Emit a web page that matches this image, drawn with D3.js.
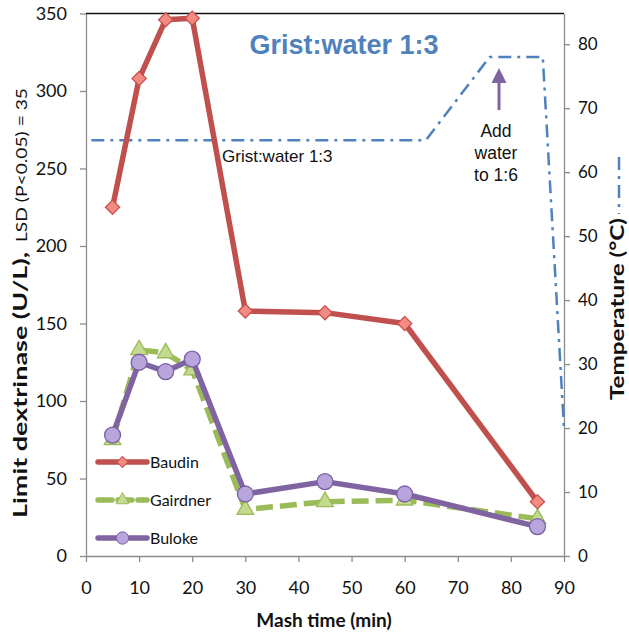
<!DOCTYPE html>
<html>
<head>
<meta charset="utf-8">
<script src="https://cdn.jsdelivr.net/npm/d3@7"></script>
<style>
body { margin: 0; background: #fff; }
svg text { font-family: Lato, "Open Sans", sans-serif; }
</style>
</head>
<body>
<svg id="chart" width="629" height="637"></svg>
<script>
// Data
const mashTimes = [5, 10, 15, 20, 30, 45, 60, 85];
const baudin = [225, 308, 346, 347, 158, 157, 150, 35];
const gairdner = [75, 133, 131, 120, 30, 35, 36, 24];
const buloke = [78, 125, 119, 127, 40, 48, 40, 19];
const tempTimes = [1, 64, 76, 86, 90];
const tempValues = [65, 65, 78, 78, 20];
const xTicks = [0, 10, 20, 30, 40, 50, 60, 70, 80, 90];
const leftTicks = [0, 50, 100, 150, 200, 250, 300, 350];
const rightTicks = [0, 10, 20, 30, 40, 50, 60, 70, 80];
const seriesNames = ["Baudin", "Gairdner", "Buloke"];

const svg = d3.select("#chart");
const margin = { top: 13.5, right: 65, bottom: 81, left: 86 };
const width = +svg.attr("width") - margin.left - margin.right;
const height = +svg.attr("height") - margin.top - margin.bottom;

const g = svg.append("g")
    .attr("transform", `translate(${margin.left},${margin.top})`);

const x = d3.scaleLinear().domain([0, 90]).range([0, width]);
const y = d3.scaleLinear().domain([0, 350]).range([height, 0]);
const yT = d3.scaleLinear().domain([0, 84.8]).range([height, 0]);

const axisGrey = "#8c8c8c";
const tempDash = "13,6,3,6";

// Axes
const gx = g.append("g")
    .attr("transform", `translate(0,${height})`)
    .call(d3.axisBottom(x).tickValues(xTicks).tickSize(6).tickSizeOuter(0).tickPadding(19));
const gy = g.append("g")
    .call(d3.axisLeft(y).tickValues(leftTicks).tickSize(6).tickSizeOuter(0).tickPadding(13));
const gr = g.append("g")
    .attr("transform", `translate(${width},0)`)
    .call(d3.axisRight(yT).tickValues(rightTicks).tickSize(6).tickSizeOuter(0).tickPadding(8));

[gx, gy, gr].forEach(a => {
    a.select(".domain").attr("stroke", axisGrey).attr("stroke-width", 1.3);
    a.selectAll(".tick line").attr("stroke", axisGrey).attr("stroke-width", 1.3);
    a.selectAll("text").attr("fill", "#111").style("font-size", "18px");
});
gr.selectAll("text").style("font-size", "17px");

// Top border
g.append("line")
    .attr("x1", 0).attr("x2", width)
    .attr("y1", 0).attr("y2", 0)
    .attr("stroke", "#111").attr("stroke-width", 1.5);

// Temperature profile (right axis)
const tempLine = d3.line().x(d => x(d[0])).y(d => yT(d[1]));
g.append("path")
    .datum(tempTimes.map((t, i) => [t, tempValues[i]]))
    .attr("d", tempLine)
    .attr("fill", "none")
    .attr("stroke", "#4f81bd")
    .attr("stroke-width", 2.5)
    .attr("stroke-dasharray", tempDash);

// Series styles
const styles = {
    Baudin: { stroke: "#c0504d", fill: "#f28b82", mstroke: "#c9514c", dash: null, sym: d3.symbolSquare, size: 100, rot: 45 },
    Gairdner: { stroke: "#9bbb59", fill: "#c4da8e", mstroke: "#9bbb59", dash: "17,7", sym: d3.symbolTriangle, size: 120, rot: 0 },
    Buloke: { stroke: "#8064a2", fill: "#b8a5dc", mstroke: "#7a5fa6", dash: null, sym: d3.symbolCircle, size: 200, rot: 0 }
};
const seriesData = { Baudin: baudin, Gairdner: gairdner, Buloke: buloke };
const drawOrder = ["Gairdner", "Buloke", "Baudin"];

const line = d3.line().x(d => x(d.t)).y(d => y(d.v));

drawOrder.forEach(name => {
    const s = styles[name];
    const pts = mashTimes.map((t, i) => ({ t: t, v: seriesData[name][i] }));
    g.append("path")
        .datum(pts)
        .attr("d", line)
        .attr("fill", "none")
        .attr("stroke", s.stroke)
        .attr("stroke-width", 5.5)
        .attr("stroke-linejoin", "round")
        .attr("stroke-dasharray", s.dash);
    g.selectAll(".pt-" + name)
        .data(pts)
        .enter()
        .append("path")
        .attr("class", "pt-" + name)
        .attr("d", d3.symbol().type(s.sym).size(s.size))
        .attr("transform", d => `translate(${x(d.t)},${y(d.v)}) rotate(${s.rot})`)
        .attr("fill", s.fill)
        .attr("stroke", s.mstroke)
        .attr("stroke-width", 1.3);
});

// Legend
const legend = svg.append("g").attr("transform", "translate(98,462)");
seriesNames.forEach((name, i) => {
    const s = styles[name];
    const row = legend.append("g").attr("transform", `translate(0,${i * 38})`);
    row.append("line")
        .attr("x1", 0).attr("x2", 49)
        .attr("stroke", s.stroke)
        .attr("stroke-width", 5.5)
        .attr("stroke-linecap", "round")
        .attr("stroke-dasharray", s.dash ? "14,6" : null);
    row.append("path")
        .attr("d", d3.symbol().type(s.sym).size(s.size * 0.6))
        .attr("transform", `translate(24.5,0) rotate(${s.rot})`)
        .attr("fill", s.fill)
        .attr("stroke", s.mstroke)
        .attr("stroke-width", 1);
    row.append("text")
        .attr("x", 52)
        .attr("y", 6)
        .style("font-size", "16px")
        .attr("fill", "#111")
        .text(name);
});

// Axis titles
svg.append("text")
    .attr("transform", "translate(27,518) rotate(-90)")
    .attr("fill", "#111")
    .attr("textLength", 266)
    .attr("lengthAdjust", "spacingAndGlyphs")
    .style("font-size", "19px").style("font-weight", "bold")
    .text("Limit dextrinase (U/L),");
svg.append("text")
    .attr("transform", "translate(27,88) rotate(-90)")
    .attr("text-anchor", "end")
    .attr("fill", "#111")
    .attr("textLength", 154)
    .attr("lengthAdjust", "spacingAndGlyphs")
    .style("font-size", "16px")
    .text("LSD (P<0.05) = 35");

svg.append("text")
    .attr("x", 324)
    .attr("y", 627)
    .attr("text-anchor", "middle")
    .style("font-size", "19px").style("font-weight", "bold")
    .attr("fill", "#111")
    .text("Mash time (min)");

svg.append("text")
    .attr("transform", "translate(624,400) rotate(-90)")
    .attr("fill", "#111")
    .attr("textLength", 182)
    .attr("lengthAdjust", "spacingAndGlyphs")
    .style("font-size", "19px").style("font-weight", "bold")
    .text("Temperature (°C)");

// Temperature legend key beside the right title
svg.append("line")
    .attr("x1", 619).attr("x2", 619)
    .attr("y1", 157).attr("y2", 214)
    .attr("stroke", "#4f81bd")
    .attr("stroke-width", 2.5)
    .attr("stroke-dasharray", tempDash);

// Annotations
svg.append("text")
    .attr("x", 344)
    .attr("y", 54)
    .attr("text-anchor", "middle")
    .style("font-family", "'Liberation Sans', Arial, sans-serif")
    .style("font-size", "27px").style("font-weight", "bold")
    .attr("fill", "#4f81bd")
    .text("Grist:water 1:3");

svg.append("text")
    .attr("x", 222)
    .attr("y", 161.5)
    .style("font-family", "'Liberation Sans', Arial, sans-serif")
    .style("font-size", "17px")
    .attr("fill", "#111")
    .text("Grist:water 1:3");

const addNote = ["Add", "water", "to 1:6"];
svg.append("g").selectAll("text")
    .data(addNote)
    .enter()
    .append("text")
    .attr("x", 496)
    .attr("y", (d, i) => 136.5 + i * 22)
    .attr("text-anchor", "middle")
    .style("font-family", "'Liberation Sans', Arial, sans-serif")
    .style("font-size", "17.5px")
    .attr("fill", "#111")
    .text(d => d);

// Purple arrow
svg.append("line")
    .attr("x1", 499).attr("x2", 499)
    .attr("y1", 110).attr("y2", 82)
    .attr("stroke", "#8064a2")
    .attr("stroke-width", 3);
svg.append("path")
    .attr("d", "M491.5,83 L506.5,83 L499,68 Z")
    .attr("fill", "#8064a2");
</script>
</body>
</html>
